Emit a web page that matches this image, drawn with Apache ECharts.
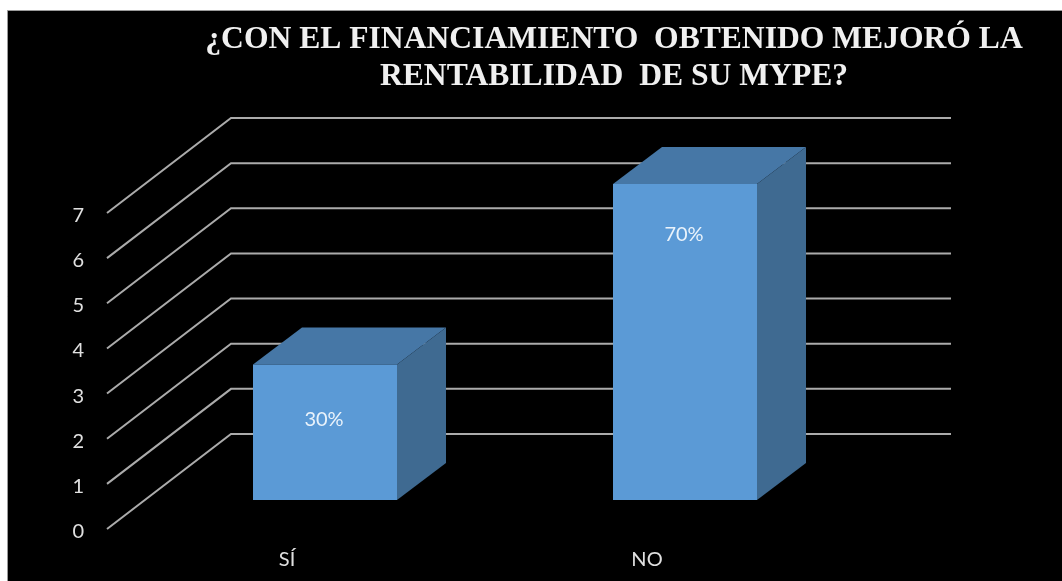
<!DOCTYPE html>
<html>
<head>
<meta charset="utf-8">
<style>
  html, body { margin: 0; padding: 0; background: #fff; }
  #chart { width: 1062px; height: 581px; }
</style>
<script src="https://cdn.jsdelivr.net/npm/echarts@6/dist/echarts.min.js"></script>
</head>
<body>
<div id="chart"></div>
<script>
const categories = ['SÍ', 'NO'];
const barValues = [3, 7];
const valueLabels = ['30%', '70%'];
const yTicks = [0, 1, 2, 3, 4, 5, 6, 7];
const titleText = '¿CON EL FINANCIAMIENTO  OBTENIDO MEJORÓ LA\nRENTABILIDAD  DE SU MYPE?';

// Oblique projection used for the pseudo-3D look, in pixels
const WALL_DX = 124, WALL_DY = -95;    // from front edge of the floor to the back wall
const BAR_DX = 38, BAR_DY = -29;       // from front edge of the floor to a bar's front face
const DEPTH_DX = 49, DEPTH_DY = -37;   // depth of a bar
const BAR_RATIO = 0.4;                 // bar width as a share of the category band
const LABEL_DROP = [55, 51];           // value label distance below the bar's top edge
const LABEL_FONT = 'Lato, "Open Sans", sans-serif';

const chart = echarts.init(document.getElementById('chart'), null, { renderer: 'canvas' });

// Side wall diagonal plus back wall line for one tick
function renderGridLine(params, api) {
  const y = api.coord([0, api.value(1)])[1];
  const left = params.coordSys.x;
  const width = params.coordSys.width;
  return {
    type: 'polyline',
    shape: {
      points: [
        [left, y],
        [left + WALL_DX, y + WALL_DY],
        [left + WALL_DX + width, y + WALL_DY]
      ]
    },
    style: { fill: null, stroke: '#ababab', lineWidth: 2 }
  };
}

// Front, top and side faces of one column
function renderBar(params, api) {
  const idx = api.value(0);
  const top = api.coord([idx, api.value(1)]);
  const base = api.coord([idx, 0]);
  const w = api.size([1, 0])[0] * BAR_RATIO;
  const x0 = top[0] - w / 2 + BAR_DX;
  const x1 = x0 + w;
  const yt = top[1] + BAR_DY;
  const yb = base[1] + BAR_DY;
  return {
    type: 'group',
    children: [
      {
        type: 'polygon',
        shape: { points: [[x0, yt], [x1, yt], [x1 + DEPTH_DX, yt + DEPTH_DY], [x0 + DEPTH_DX, yt + DEPTH_DY]] },
        style: { fill: '#4677a6' }
      },
      {
        type: 'polygon',
        shape: { points: [[x1, yt], [x1 + DEPTH_DX, yt + DEPTH_DY], [x1 + DEPTH_DX, yb + DEPTH_DY], [x1, yb]] },
        style: { fill: '#3f6a91' }
      },
      {
        type: 'rect',
        shape: { x: x0, y: yt, width: w, height: yb - yt },
        style: { fill: '#5b9ad6' }
      },
      {
        type: 'text',
        style: {
          x: (x0 + x1) / 2 - 1,
          y: yt + LABEL_DROP[params.dataIndex],
          text: valueLabels[params.dataIndex],
          fill: '#eaf3fb',
          font: '20px ' + LABEL_FONT,
          align: 'center',
          verticalAlign: 'middle'
        }
      }
    ]
  };
}

chart.setOption({
  animation: false,
  backgroundColor: '#ffffff',
  graphic: [{
    type: 'rect',
    silent: true,
    z: -10,
    shape: { x: 7.5, y: 10.5, width: 1060, height: 576 },
    style: { fill: '#000000', stroke: '#9a9a9a', lineWidth: 1 }
  }],
  title: {
    text: titleText,
    left: 609,
    top: 16,
    textAlign: 'center',
    textStyle: {
      fontFamily: '"Liberation Serif", serif',
      fontWeight: 'bold',
      fontSize: 31.6,
      lineHeight: 37,
      color: '#f0f0f0'
    }
  },
  grid: { left: 107, width: 720, top: 213, height: 316 },
  xAxis: {
    type: 'category',
    data: categories,
    axisLine: { show: false },
    axisTick: { show: false },
    axisLabel: {
      color: '#e0e0e0',
      fontSize: 20,
      fontFamily: LABEL_FONT,
      margin: 21
    }
  },
  yAxis: {
    type: 'value',
    min: 0,
    max: 7,
    interval: 1,
    axisLine: { show: false },
    axisTick: { show: false },
    splitLine: { show: false },
    axisLabel: {
      margin: 23,
      formatter: '{tick|{value}}',
      rich: {
        tick: {
          color: '#e0e0e0',
          fontSize: 20,
          fontFamily: LABEL_FONT,
          padding: [5, 0, 0, 0]
        }
      }
    }
  },
  series: [
    {
      type: 'custom',
      name: 'grid',
      silent: true,
      z: 1,
      clip: false,
      renderItem: renderGridLine,
      data: yTicks.map(v => [0, v]),
      encode: { x: 0, y: 1 }
    },
    {
      type: 'custom',
      name: 'bars',
      z: 2,
      clip: false,
      renderItem: renderBar,
      data: barValues.map((v, i) => [i, v]),
      encode: { x: 0, y: 1 }
    }
  ]
});
</script>
</body>
</html>
